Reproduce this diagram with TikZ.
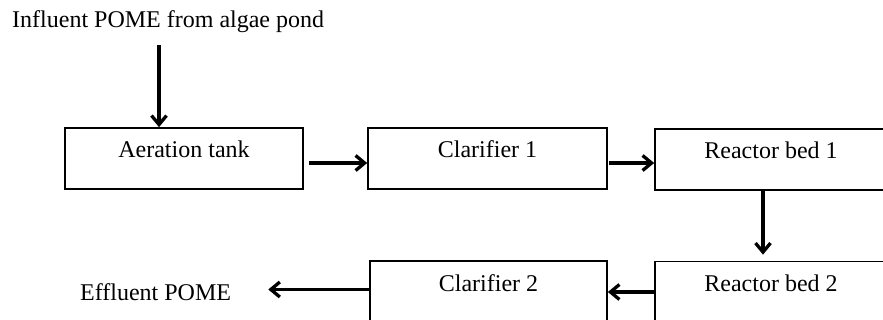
\documentclass[tikz,border=0pt]{standalone}
\usepackage{fontspec}
\setmainfont{Liberation Serif}
\usetikzlibrary{arrows.meta,calc}
\tikzset{
  stage/.style={draw, line width=1.7pt, rectangle, inner xsep=0pt, inner ysep=0pt,
    text height=30pt, text depth=31pt, font=\fontsize{24}{27}\selectfont},
  lbl/.style={inner sep=0pt, font=\fontsize{24}{27}\selectfont},
  arr/.style={line width=3.3pt, -{Straight Barb[length=9pt,width=15pt]}}
}
\begin{document}
\begin{tikzpicture}[x=1pt,y=-1pt]
\clip (0,0) rectangle (883,320);
\fill[white] (0,0) rectangle (883,320);
\node[stage, minimum width=238pt] (aer) at (184,158.5) {Aeration tank};
\node[stage, minimum width=239pt] (cl1) at (487.5,158.5) {Clarifier 1};
\node[stage, minimum width=232pt] (rb1) at (771,159.5) {Reactor bed 1};
\node[stage, minimum width=232pt] (rb2) at (771,292) {Reactor bed 2};
\node[stage, minimum width=237pt] (cl2) at (488.5,291.5) {Clarifier 2};
\node[lbl, anchor=base west] (infl) at (12,28) {Influent POME from algae pond};
\node[lbl, anchor=base west] (eff) at (80,300) {Effluent POME};
\coordinate (inA) at (159,45);
\draw[arr] (inA) -- (inA |- aer.north);
\draw[arr, shorten <=5pt] ([yshift=-4.5pt]aer.east) -- ([yshift=-4.5pt]aer.east -| cl1.west);
\draw[arr, shorten <=1pt] ([yshift=-4.5pt]cl1.east) -- ([yshift=-4.5pt]cl1.east -| rb1.west);
\draw[arr, shorten >=6pt] ([xshift=-8pt]rb1.south) -- ([xshift=-8pt]rb2.north);
\draw[arr] (rb2.west) -- (rb2.west -| cl2.east);
\draw[arr, shorten >=37pt] ([yshift=2pt]cl2.west) -- ([yshift=2pt]cl2.west -| eff.east);
\end{tikzpicture}
\end{document}
